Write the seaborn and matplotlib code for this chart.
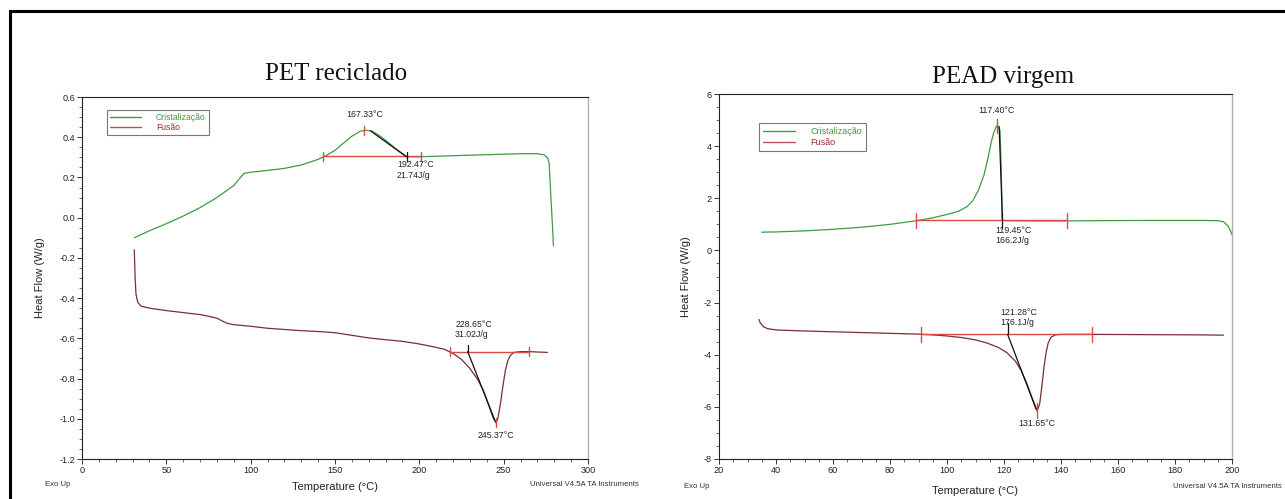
import numpy as np
import pandas as pd
import matplotlib
matplotlib.use("Agg")
import matplotlib.pyplot as plt
from matplotlib.lines import Line2D
from matplotlib.patches import Rectangle
from matplotlib.ticker import MultipleLocator, FormatStrFormatter
import seaborn as sns

sns.set_style("white")
plt.rcParams['font.family'] = ['Liberation Sans', 'DejaVu Sans']
plt.rcParams['axes.unicode_minus'] = False

# ---------------- PET reciclado ----------------
pet_cryst_T = [31, 40, 50, 60, 70, 80, 90, 96, 100, 110, 120, 130, 140, 145, 150,
               155, 160, 165, 168, 172, 176, 180, 185, 190, 193, 200, 220, 240,
               260, 270, 274, 276, 277, 278, 279, 279.5]
pet_cryst_HF = [-0.10, -0.065, -0.03, 0.008, 0.05, 0.10, 0.16, 0.22, 0.226, 0.235,
                0.245, 0.262, 0.29, 0.31, 0.335, 0.37, 0.405, 0.43, 0.435, 0.43,
                0.41, 0.385, 0.35, 0.318, 0.302, 0.303, 0.308, 0.313, 0.318,
                0.318, 0.312, 0.298, 0.27, 0.10, -0.05, -0.14]
pet_melt_T = [31, 31.5, 32, 33, 35, 40, 50, 60, 70, 75, 80, 83, 86, 90, 100, 110,
              120, 130, 140, 150, 160, 170, 180, 190, 200, 210, 215, 220, 225,
              230, 235, 238, 241, 243.5, 245.37, 246.5, 248, 249.5, 251, 252.5,
              254, 256, 260, 265, 270, 276]
pet_melt_HF = [-0.16, -0.30, -0.38, -0.42, -0.44, -0.45, -0.462, -0.472, -0.482,
               -0.49, -0.50, -0.513, -0.525, -0.532, -0.54, -0.55, -0.556, -0.562,
               -0.566, -0.572, -0.585, -0.598, -0.607, -0.615, -0.628, -0.645,
               -0.655, -0.675, -0.705, -0.75, -0.81, -0.86, -0.93, -0.99, -1.02,
               -1.00, -0.93, -0.84, -0.76, -0.71, -0.685, -0.67, -0.666, -0.666,
               -0.668, -0.67]

pet_cryst_peak = 167.33
pet_cryst_end = 192.47
pet_cryst_dH = 21.74
pet_cryst_limits = [143, 201]
pet_cryst_base = 0.305
pet_cryst_tangent_T = [171, 192.47]
pet_cryst_tangent_HF = [0.432, 0.302]

pet_melt_peak = 245.37
pet_melt_onset = 228.65
pet_melt_dH = 31.02
pet_melt_limits = [218, 265]
pet_melt_base = -0.666
pet_melt_tangent_T = [228.65, 245.0]
pet_melt_tangent_HF = [-0.666, -1.012]

# ---------------- PEAD virgem ----------------
pead_cryst_T = [35, 40, 50, 60, 70, 80, 90, 95, 100, 104, 107, 109, 111, 113,
                114.5, 115.5, 116.5, 117.4, 118, 118.6, 119.0, 119.45, 122, 130,
                140, 150, 170, 190, 195, 197, 198.5, 199.5, 200]
pead_cryst_HF = [0.70, 0.71, 0.75, 0.81, 0.89, 1.00, 1.15, 1.25, 1.38, 1.50, 1.68,
                 1.90, 2.30, 2.90, 3.60, 4.15, 4.55, 4.78, 4.75, 4.60, 3.20, 1.15,
                 1.14, 1.13, 1.13, 1.14, 1.15, 1.15, 1.14, 1.10, 0.95, 0.75, 0.60]
pead_melt_T = [34, 34.5, 35.5, 37, 40, 50, 60, 70, 80, 90, 95, 100, 105, 110, 114,
               118, 121, 124, 126, 128, 130, 131.65, 132.5, 133.3, 134, 134.8,
               135.5, 136.5, 138, 140, 150, 170, 190, 197]
pead_melt_HF = [-2.65, -2.78, -2.92, -3.00, -3.05, -3.09, -3.12, -3.15, -3.18,
                -3.21, -3.24, -3.28, -3.34, -3.43, -3.55, -3.72, -3.92, -4.25,
                -4.60, -5.10, -5.70, -6.15, -5.90, -5.20, -4.50, -3.90, -3.55,
                -3.33, -3.24, -3.22, -3.22, -3.23, -3.24, -3.25]

pead_cryst_peak = 117.40
pead_cryst_end = 119.45
pead_cryst_dH = 166.2
pead_cryst_limits = [89, 142]
pead_cryst_base = 1.15
pead_cryst_tangent_T = [118.3, 119.45]
pead_cryst_tangent_HF = [4.75, 1.15]

pead_melt_peak = 131.65
pead_melt_onset = 121.28
pead_melt_dH = 176.1
pead_melt_limits = [91, 151]
pead_melt_base = -3.22
pead_melt_tangent_T = [121.28, 131.3]
pead_melt_tangent_HF = [-3.22, -6.10]

series_names = ['Cristalização', 'Fusão']

GREEN = '#3f9a42'
MELT = '#7a2e2e'
BASE = '#dc4b42'
LEG_MELT = '#b65252'
TXT_MELT = '#a52a2a'

W, H = 1285, 499
fig = plt.figure(figsize=(W / 100, H / 100), dpi=100)


def fig_ax(left, top, right, bottom):
    return fig.add_axes([left / W, 1 - bottom / H, (right - left) / W, (bottom - top) / H])


ax1 = fig_ax(82, 97, 588, 459)
ax2 = fig_ax(719, 94, 1232, 459)


def draw_panel(ax, cT, cHF, mT, mHF, cr, me, tick_h, xmaj, xmin, ymaj, ymin,
               xlim, ylim, yfmt, leg_anchor, leg_fs, leg_sp, xlab_y, ylab_x):
    df = pd.concat([
        pd.DataFrame({'T': cT, 'HF': cHF, 'curva': series_names[0]}),
        pd.DataFrame({'T': mT, 'HF': mHF, 'curva': series_names[1]}),
    ], ignore_index=True)
    sns.lineplot(data=df, x='T', y='HF', hue='curva', estimator=None, sort=False,
                 palette={series_names[0]: GREEN, series_names[1]: MELT},
                 linewidth=0.9, legend=False, ax=ax)

    # integration baselines with limit marks
    for ev in (cr, me):
        lo, hi = ev['limits']
        b = ev['base']
        ax.plot([lo, hi], [b, b], color=BASE, lw=1.0, zorder=3)
        for xv in (lo, hi):
            ax.plot([xv, xv], [b - tick_h, b + tick_h], color=BASE, lw=1.0, zorder=3)
        ax.plot(ev['tan_T'], ev['tan_HF'], color='#111111', lw=0.9, zorder=4)

    # peak marks
    cpk = max(cHF)
    ax.plot([cr['peak'], cr['peak']], [cpk - tick_h, cpk + tick_h], color=BASE, lw=1.0, zorder=5)
    mpk = min(mHF)
    ax.plot([me['peak'], me['peak']], [mpk - tick_h, mpk + tick_h], color=BASE, lw=1.0, zorder=5)
    # end / onset marks
    ax.plot([cr['end'], cr['end']], [cr['base'] - tick_h, cr['base'] + tick_h],
            color='#111111', lw=0.9, zorder=5)
    ax.plot([me['onset'], me['onset']], [me['base'], me['base'] + 1.6 * tick_h],
            color='#111111', lw=0.9, zorder=5)

    fs = 6.3
    ax.annotate(f"{cr['peak']:.2f}°C", xy=(cr['peak'], cpk), xytext=(0, 8),
                textcoords='offset points', ha='center', va='bottom', fontsize=fs, color='#222')
    ax.annotate(f"{cr['end']:.2f}°C\n{cr['dH']}J/g", xy=(cr['end'], cr['base']),
                xytext=cr['txt_off'], textcoords='offset points', ha='left', va='top',
                fontsize=fs, color='#222', linespacing=1.15)
    ax.annotate(f"{me['onset']:.2f}°C\n{me['dH']}J/g", xy=(me['onset'], me['base']),
                xytext=me['txt_off'], textcoords='offset points', ha='left', va='bottom',
                fontsize=fs, color='#222', linespacing=1.15)
    ax.annotate(f"{me['peak']:.2f}°C", xy=(me['peak'], mpk), xytext=(0, -6),
                textcoords='offset points', ha='center', va='top', fontsize=fs, color='#222')

    ax.set_xlim(*xlim)
    ax.set_ylim(*ylim)
    ax.xaxis.set_major_locator(MultipleLocator(xmaj))
    ax.xaxis.set_minor_locator(MultipleLocator(xmin))
    ax.yaxis.set_major_locator(MultipleLocator(ymaj))
    ax.yaxis.set_minor_locator(MultipleLocator(ymin))
    ax.yaxis.set_major_formatter(FormatStrFormatter(yfmt))
    ax.tick_params(which='major', direction='out', length=3.5, width=0.7,
                   labelsize=6.6, colors='#333', labelcolor='#222', pad=1.5,
                   bottom=True, left=True)
    ax.tick_params(which='minor', direction='out', length=2, width=0.6,
                   colors='#555', bottom=True, left=True)
    for side in ('left', 'bottom', 'top'):
        ax.spines[side].set_color('#222')
        ax.spines[side].set_linewidth(0.8)
    ax.spines['right'].set_color('#b0b0b0')
    ax.spines['right'].set_linewidth(1.0)

    ax.set_xlabel('Temperature (°C)', fontsize=8, color='#222')
    ax.set_ylabel('Heat Flow (W/g)', fontsize=8, color='#222')
    ax.xaxis.set_label_coords(0.5, xlab_y)
    ax.yaxis.set_label_coords(ylab_x, 0.5)

    handles = [Line2D([], [], color=GREEN, lw=1.0), Line2D([], [], color=LEG_MELT, lw=1.0)]
    leg = ax.legend(handles, series_names, loc='upper left', bbox_to_anchor=leg_anchor,
                    fontsize=leg_fs, frameon=True, fancybox=False, edgecolor='#555555',
                    handlelength=3.6, handletextpad=1.7, borderpad=0.4,
                    labelspacing=leg_sp, borderaxespad=0.0)
    leg.get_frame().set_linewidth(0.8)
    for t, c in zip(leg.get_texts(), [GREEN, TXT_MELT]):
        t.set_color(c)


draw_panel(ax1, pet_cryst_T, pet_cryst_HF, pet_melt_T, pet_melt_HF,
           dict(peak=pet_cryst_peak, end=pet_cryst_end, dH=pet_cryst_dH,
                limits=pet_cryst_limits, base=pet_cryst_base,
                tan_T=pet_cryst_tangent_T, tan_HF=pet_cryst_tangent_HF, txt_off=(-7, -3)),
           dict(peak=pet_melt_peak, onset=pet_melt_onset, dH=pet_melt_dH,
                limits=pet_melt_limits, base=pet_melt_base,
                tan_T=pet_melt_tangent_T, tan_HF=pet_melt_tangent_HF, txt_off=(-9, 9)),
           tick_h=0.022, xmaj=50, xmin=10, ymaj=0.2, ymin=0.05,
           xlim=(0, 300), ylim=(-1.2, 0.6), yfmt='%.1f',
           leg_anchor=(0.049, 0.964), leg_fs=6.2, leg_sp=0.05,
           xlab_y=-0.064, ylab_x=-0.073)

draw_panel(ax2, pead_cryst_T, pead_cryst_HF, pead_melt_T, pead_melt_HF,
           dict(peak=pead_cryst_peak, end=pead_cryst_end, dH=pead_cryst_dH,
                limits=pead_cryst_limits, base=pead_cryst_base,
                tan_T=pead_cryst_tangent_T, tan_HF=pead_cryst_tangent_HF, txt_off=(-5, -4)),
           dict(peak=pead_melt_peak, onset=pead_melt_onset, dH=pead_melt_dH,
                limits=pead_melt_limits, base=pead_melt_base,
                tan_T=pead_melt_tangent_T, tan_HF=pead_melt_tangent_HF, txt_off=(-5, 5)),
           tick_h=0.28, xmaj=20, xmin=5, ymaj=2, ymin=0.5,
           xlim=(20, 200), ylim=(-8, 6), yfmt='%d',
           leg_anchor=(0.078, 0.92), leg_fs=6.5, leg_sp=0.25,
           xlab_y=-0.074, ylab_x=-0.054)

# panel titles
fig.text(336 / W, 1 - 74 / H, 'PET reciclado', ha='center', va='center',
         fontsize=18, family=['Liberation Serif', 'DejaVu Serif'], color='#111')
fig.text(1003 / W, 1 - 77 / H, 'PEAD virgem', ha='center', va='center',
         fontsize=18, family=['Liberation Serif', 'DejaVu Serif'], color='#111')

# instrument footers
for x_exo, x_uni, y in ((45, 530, 485), (684, 1173, 487)):
    fig.text(x_exo / W, 1 - y / H, 'Exo Up', ha='left', va='center', fontsize=5.6, color='#333')
    fig.text(x_uni / W, 1 - y / H, 'Universal V4.5A TA Instruments', ha='left',
             va='center', fontsize=5.6, color='#333')

# outer frame
fig.add_artist(Rectangle((9.5 / W, -0.2), 1.3, 1.2 - 10.5 / H, transform=fig.transFigure,
                         fill=False, edgecolor='black', linewidth=2.2, clip_on=False))

fig.savefig('out.png', dpi=100, facecolor='white')
